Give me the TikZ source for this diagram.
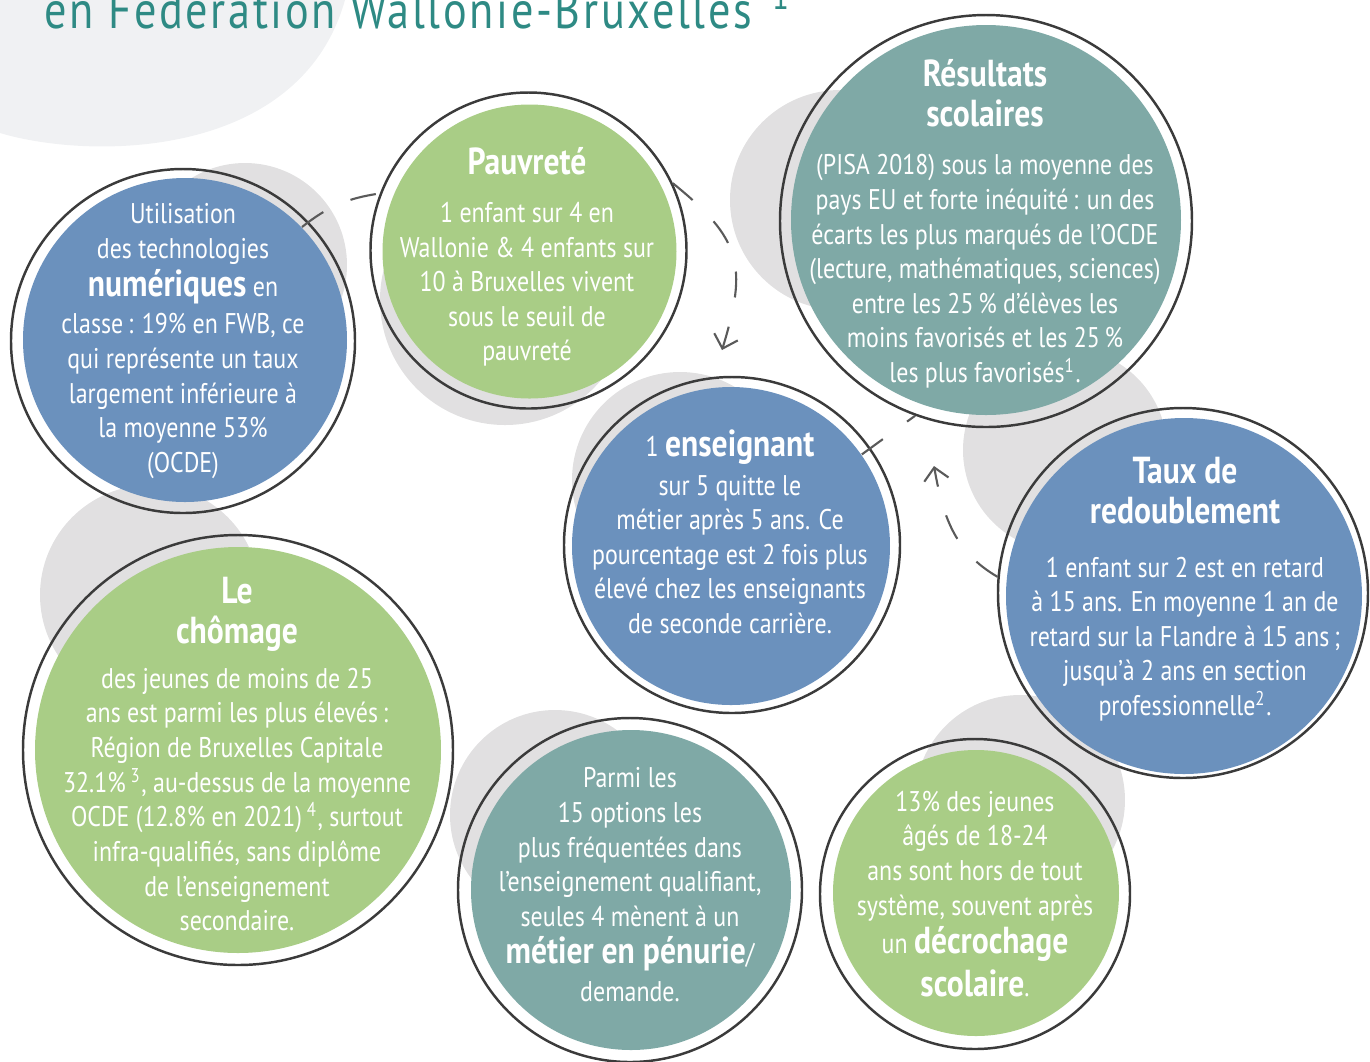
\documentclass[tikz,border=0pt]{standalone}
\usepackage{fontspec}
\setmainfont{PT Sans}[FakeStretch=0.84]
\newfontfamily\titlefont{PT Sans}[FakeStretch=0.84, LetterSpace=5]
\usetikzlibrary{arrows.meta}

\definecolor{bluebub}{HTML}{6B91BD}
\definecolor{greenbub}{HTML}{A9CD86}
\definecolor{tealbub}{HTML}{7FA9A6}
\definecolor{shadowgray}{HTML}{E1E0E1}
\definecolor{blobgray}{HTML}{F0F1F3}
\definecolor{ringgray}{HTML}{3B3B3B}
\definecolor{linkgray}{HTML}{5A5A5A}
\definecolor{titleteal}{HTML}{2E8A84}

\newcommand\bodytxt{\fontsize{8.1}{9.85}\selectfont}
\newcommand\headtxt{\fontsize{10.7}{11.4}\selectfont\bfseries}
\newcommand\keyw[1]{{\fontsize{10.7}{11}\selectfont\bfseries #1}}

\tikzset{
    disc/.style={circle, inner sep=0pt, minimum size=#1},
    ring/.style={circle, draw=ringgray, line width=0.7pt, inner sep=0pt, minimum size=#1},
    blurb/.style={align=center, text=white, font=\bodytxt, inner sep=0pt},
    link/.style={linkgray, line width=0.6pt, dash pattern=on 7.4pt off 8.5pt},
    arrowend/.style={-{Straight Barb[length=3.5pt,width=7pt]}},
}

\begin{document}
\begin{tikzpicture}
    \useasboundingbox (0,0) rectangle (13.70,-10.61);
    \clip (0,0) rectangle (13.70,-10.61);

    % fond et titre
    \fill[blobgray] (0,0) -- (0,-1.33) .. controls (0.90,-1.60) and (3.00,-1.60) .. (3.45,0) -- cycle;
    \node[anchor=base west, inner sep=0pt, text=titleteal, font=\titlefont\fontsize{15}{18}\selectfont] (titre) at (0.44,-0.28) {en Fédération Wallonie-Bruxelles\hspace{0.2cm}\textsuperscript{1}};

    % ombres grises
    \fill[shadowgray] (2.45,-2.65) circle (1.02);
    \fill[shadowgray] (5.05,-3.00) circle (1.25);
    \fill[shadowgray] (8.40,-2.00) circle (1.10);
    \fill[shadowgray] (6.80,-4.80) circle (1.08);
    \fill[shadowgray] (10.65,-4.50) circle (1.02);
    \fill[shadowgray] (1.50,-5.95) circle (1.10);
    \fill[shadowgray] (5.55,-8.15) circle (1.05);
    \fill[shadowgray] (10.20,-8.00) circle (1.05);

    % bulles
    \node[disc=3.24cm, fill=bluebub] (util) at (1.85,-3.40) {};
    \node[disc=2.94cm, fill=greenbub] (pauv) at (5.295,-2.515) {};
    \node[disc=3.90cm, fill=tealbub] (res) at (9.86,-2.20) {};
    \node[disc=3.18cm, fill=bluebub] (ens) at (7.31,-5.46) {};
    \node[disc=3.56cm, fill=bluebub] (taux) at (11.84,-5.96) {};
    \node[disc=4.06cm, fill=greenbub] (chom) at (2.38,-7.50) {};
    \node[disc=3.20cm, fill=tealbub] (parmi) at (6.31,-8.90) {};
    \node[disc=2.86cm, fill=greenbub] (jeunes) at (9.76,-8.93) {};

    % anneaux
    \node[ring=3.44cm] (utilR) at (1.83,-3.41) {};
    \node[ring=3.16cm] (pauvR) at (5.285,-2.505) {};
    \node[ring=4.12cm] (resR) at (9.86,-2.21) {};
    \node[ring=3.36cm] (ensR) at (7.32,-5.45) {};
    \node[ring=3.70cm] (tauxR) at (11.83,-5.93) {};
    \node[ring=4.30cm] (chomR) at (2.38,-7.50) {};
    \node[ring=3.44cm] (parmiR) at (6.30,-8.90) {};
    \node[ring=3.10cm] (jeunesR) at (9.75,-8.94) {};

    % textes
    \node[blurb] (utilT) at (1.83,-3.41) {Utilisation\\ des technologies\\[1pt] \keyw{numériques} en\\[0.8pt] classe\,: 19\% en FWB, ce\\ qui représente un taux\\ largement inférieure à\\ la moyenne 53\%\\ (OCDE)};
    \node[blurb] (pauvT) at (5.27,-2.57) {{\headtxt Pauvreté}\\[3.8pt] 1 enfant sur 4 en\\ Wallonie \& 4 enfants sur\\ 10 à Bruxelles vivent\\ sous le seuil de\\ pauvreté};
    \node[blurb] (resT) at (9.85,-2.24) {{\headtxt Résultats}\\[1.5pt] {\headtxt scolaires}\\[3.8pt] (PISA 2018) sous la moyenne des\\ pays EU et forte inéquité\,: un des\\ écarts les plus marqués de l’OCDE\\ (lecture, mathématiques, sciences)\\ entre les 25\,\% d’élèves les\\ moins favorisés et les 25\,\%\\ les plus favorisés\textsuperscript{1}.};
    \node[blurb] (ensT) at (7.30,-5.32) {1 \keyw{enseignant}\\[1pt] sur 5 quitte le\\ métier après 5 ans. Ce\\ pourcentage est 2 fois plus\\ élevé chez les enseignants\\ de seconde carrière.};
    \node[blurb] (tauxT) at (11.85,-5.89) {{\headtxt Taux de}\\[1.5pt] {\headtxt redoublement}\\[5.5pt] 1 enfant sur 2 est en retard\\ à 15 ans. En moyenne 1 an de\\ retard sur la Flandre à 15 ans\,;\\ jusqu’à 2 ans en section\\ professionnelle\textsuperscript{2}.};
    \node[blurb] (chomT) at (2.37,-7.54) {{\headtxt Le}\\[1.5pt] {\headtxt chômage}\\[3pt] des jeunes de moins de 25\\ ans est parmi les plus élevés\,:\\ Région de Bruxelles Capitale\\ 32.1\%\,\textsuperscript{3}, au-dessus de la moyenne\\ OCDE (12.8\% en 2021)\,\textsuperscript{4}, surtout\\ infra-qualifiés, sans diplôme\\ de l’enseignement\\ secondaire.};
    \node[blurb] (parmiT) at (6.30,-8.85) {Parmi les\\ 15 options les\\ plus fréquentées dans\\ l’enseignement qualifiant,\\ seules 4 mènent à un\\[0.8pt] \keyw{métier en pénurie}/\\[1pt] demande.};
    \node[blurb] (jeunesT) at (9.75,-8.94) {13\% des jeunes\\ âgés de 18-24\\ ans sont hors de tout\\ système, souvent après\\[1pt] un \keyw{décrochage}\\[1.5pt] \keyw{scolaire}.};

    % liens en pointillés
    \coordinate (tipP) at (7.22,-3.50);
    \coordinate (tipT) at (9.34,-4.66);
    \draw[link] (util.44) to[bend left=15] (pauvR.159);
    \draw[link, arrowend] (pauvR.25) to[out=-39, in=73, looseness=1.3] (tipP);
    \draw[link] (ens.35) -- (resR.250);
    \draw[link, arrowend] (tauxR.175) to[out=150, in=-80] (tipT);
\end{tikzpicture}
\end{document}
